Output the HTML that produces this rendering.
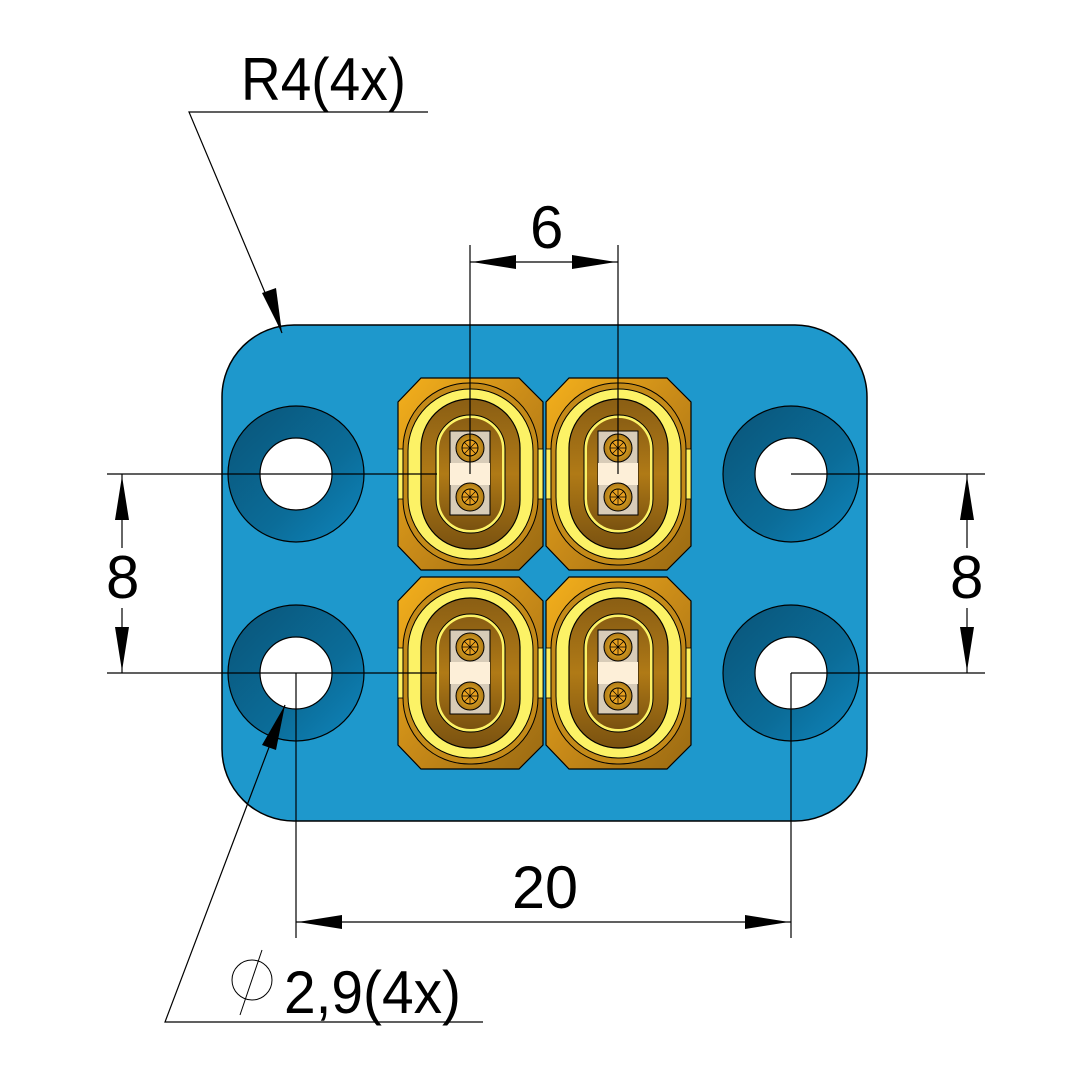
<!DOCTYPE html>
<html><head><meta charset="utf-8"><style>html,body{margin:0;padding:0;background:#fff}svg{display:block}</style></head>
<body>
<svg width="1083" height="1083" viewBox="0 0 1083 1083" xmlns="http://www.w3.org/2000/svg">
<defs>
<linearGradient id="hole" x1="0" y1="0" x2="1" y2="1">
<stop offset="0" stop-color="#0a5478"/><stop offset="0.6" stop-color="#0b6c98"/><stop offset="1" stop-color="#0f86bd"/>
</linearGradient>
<linearGradient id="gold" x1="0" y1="0" x2="1" y2="1">
<stop offset="0" stop-color="#f4b01c"/><stop offset="0.5" stop-color="#c88a18"/><stop offset="1" stop-color="#9a6a12"/>
</linearGradient>
<linearGradient id="brown" x1="0" y1="0" x2="0" y2="1">
<stop offset="0" stop-color="#8a5e14"/><stop offset="0.5" stop-color="#b07a16"/><stop offset="1" stop-color="#7a5210"/>
</linearGradient>
<radialGradient id="pin"><stop offset="0" stop-color="#f8c030"/><stop offset="1" stop-color="#b07a16"/></radialGradient>
<g id="conn">
<path d="M-49,-96 L49,-96 L73,-72 L73,72 L49,96 L-49,96 L-72,72 L-72,-72 Z" fill="url(#gold)" stroke="#000" stroke-width="1.2"/>
<rect x="-72" y="-25" width="12" height="50" fill="#fdf060" stroke="#000" stroke-width="0.8"/>
<rect x="61" y="-25" width="12" height="50" fill="#fdf060" stroke="#000" stroke-width="0.8"/>
<rect x="-67" y="-91" width="135" height="182" rx="66" fill="#c48a18" stroke="#000" stroke-width="1"/>
<rect x="-62" y="-85" width="125" height="170" rx="62" fill="#fcf266" stroke="#000" stroke-width="1"/>
<rect x="-49" y="-75" width="99" height="150" rx="49" fill="url(#brown)" stroke="#000" stroke-width="1.2"/>
<rect x="-34" y="-59" width="69" height="118" rx="34" fill="#fcf266" stroke="#000" stroke-width="1"/>
<rect x="-31" y="-56" width="63" height="112" rx="31" fill="url(#brown)"/>
<rect x="-20" y="-43" width="40" height="84" fill="#d8ccb8" stroke="#000" stroke-width="1"/>
<rect x="-20" y="-11" width="40" height="22" fill="#fdefd8"/>
<circle cx="0" cy="-26" r="14" fill="url(#pin)" stroke="#000" stroke-width="1"/>
<circle cx="0" cy="-26" r="8" fill="#e8a020" stroke="#000" stroke-width="1"/>
<path d="M-8,-26 H8 M0,-34 V-18 M-6,-32 L6,-20 M6,-32 L-6,-20" stroke="#000" stroke-width="0.7"/>
<circle cx="0" cy="23" r="14" fill="url(#pin)" stroke="#000" stroke-width="1"/>
<circle cx="0" cy="23" r="8" fill="#e8a020" stroke="#000" stroke-width="1"/>
<path d="M-8,23 H8 M0,15 V31 M-6,17 L6,29 M6,17 L-6,29" stroke="#000" stroke-width="0.7"/>
</g>
<g id="hl">
<circle r="68" fill="url(#hole)" stroke="#000" stroke-width="1.2"/>
<circle r="36" fill="#fff" stroke="#000" stroke-width="1.2"/>
</g>
</defs>
<!-- plate -->
<rect x="222" y="325" width="645" height="496" rx="72" fill="#1e98cc" stroke="#000" stroke-width="1.5"/>
<use href="#hl" x="296" y="474"/><use href="#hl" x="791" y="474"/>
<use href="#hl" x="296" y="673"/><use href="#hl" x="791" y="673"/>
<use href="#conn" x="470" y="474"/><use href="#conn" x="618" y="474"/>
<use href="#conn" x="470" y="673"/><use href="#conn" x="618" y="673"/>
<g stroke="#000" stroke-width="1.2" fill="none">
<!-- R4 leader -->
<path d="M428,112 H189 L282,333"/>
<!-- 6 -->
<path d="M470,245 V474 M618,245 V474 M470,262 H618"/>
<!-- left 8 -->
<path d="M107,474 H437 M107,673 H437 M122,474 V548 M122,608 V673"/>
<!-- right 8 -->
<path d="M791,474 H985 M791,673 H985 M967,474 V548 M967,608 V673"/>
<!-- 20 -->
<path d="M296,673 V938 M791,673 V938 M296,922 H791"/>
<!-- dia leader -->
<path d="M483,1022 H165 L285,705"/>
<circle cx="252" cy="980" r="20" stroke-width="1"/>
<path d="M262,950 L240,1015" stroke-width="1"/>
</g>
<g fill="#000">
<path d="M282,333 L262,293 L276,288 Z"/>
<path d="M472,262 L516,255 L516,269 Z"/>
<path d="M616,262 L572,255 L572,269 Z"/>
<path d="M122,476 L115,520 L129,520 Z"/>
<path d="M122,671 L115,627 L129,627 Z"/>
<path d="M967,476 L960,520 L974,520 Z"/>
<path d="M967,671 L960,627 L974,627 Z"/>
<path d="M298,922 L342,915 L342,929 Z"/>
<path d="M789,922 L745,915 L745,929 Z"/>
<path d="M285,705 L262,745 L276,750 Z"/>
</g>
<g font-family="Liberation Sans, sans-serif" fill="#000" font-size="60">
<text x="241" y="100" textLength="165" lengthAdjust="spacingAndGlyphs">R4(4x)</text>
<text x="530" y="248">6</text>
<text x="106" y="598">8</text>
<text x="950" y="598">8</text>
<text x="512" y="908" textLength="66" lengthAdjust="spacingAndGlyphs">20</text>
<text x="284" y="1013" textLength="177" lengthAdjust="spacingAndGlyphs">2,9(4x)</text>
</g>
</svg>
</body></html>
